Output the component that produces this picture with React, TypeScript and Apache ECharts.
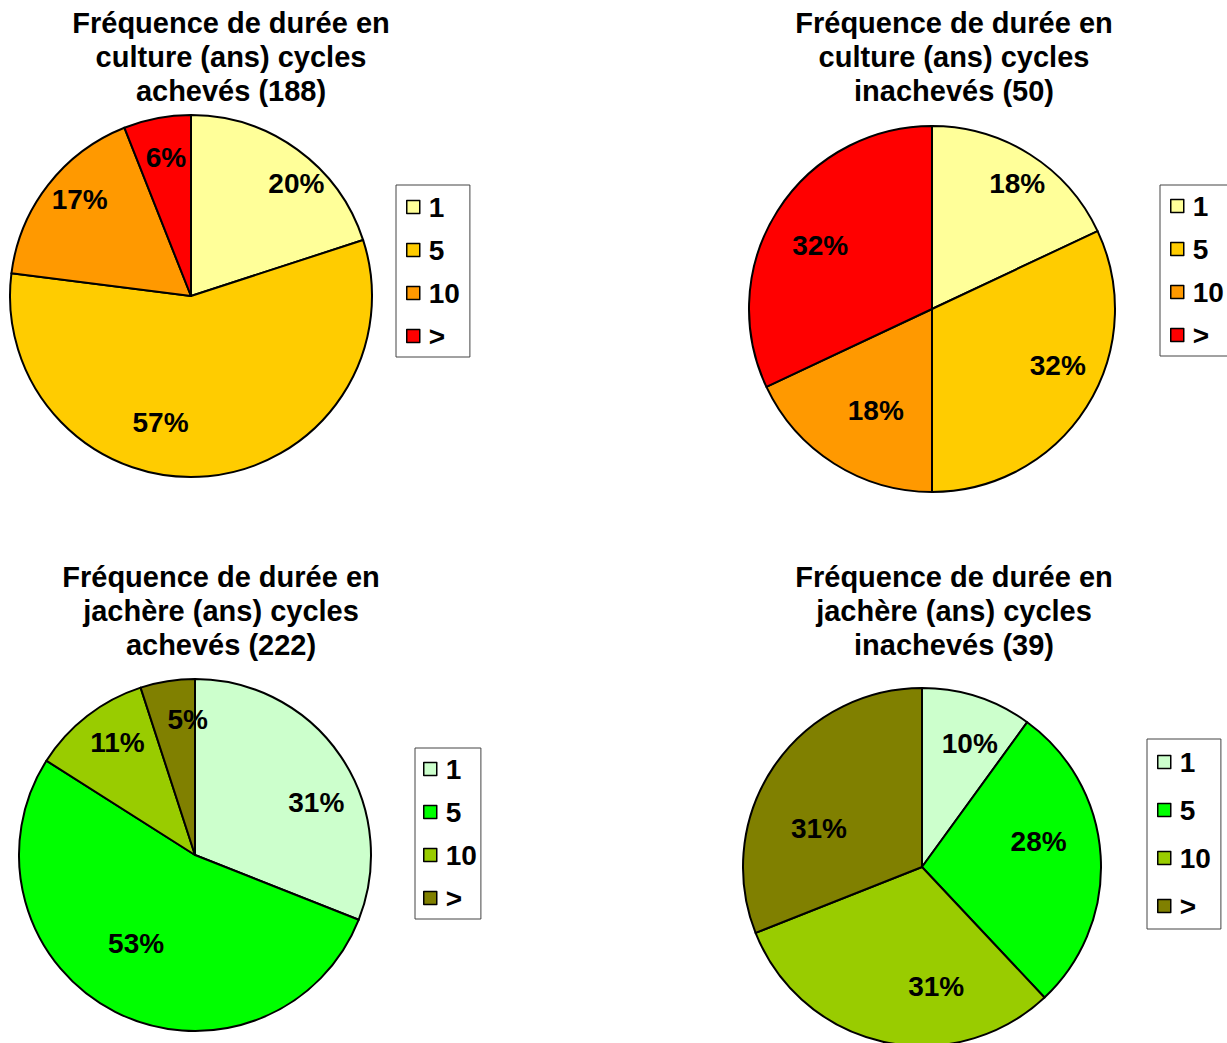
import { useEffect, useRef } from 'react';
import * as echarts from 'echarts';

// Duration classes (years) shown in every legend
const durationClasses = ['1', '5', '10', '>'];

// Shares (%) per duration class
const cultureCompleted = [20, 57, 17, 6];
const cultureOngoing = [18, 32, 18, 32];
const fallowCompleted = [31, 53, 11, 5];
const fallowOngoing = [10, 28, 31, 31];

const cultureCompletedTitle = 'Fréquence de durée en\nculture (ans) cycles\nachevés (188)';
const cultureOngoingTitle = 'Fréquence de durée en\nculture (ans) cycles\ninachevés (50)';
const fallowCompletedTitle = 'Fréquence de durée en\njachère (ans) cycles\nachevés (222)';
const fallowOngoingTitle = 'Fréquence de durée en\njachère (ans) cycles\ninachevés (39)';

const cultureColors = ['#FFFF99', '#FFCC00', '#FF9900', '#FF0000'];
const fallowColors = ['#CCFFCC', '#00FF00', '#99CC00', '#808000'];

const FONT = '"Liberation Sans", Arial, Helvetica, sans-serif';

interface Panel {
  key: string;
  title: string;
  values: number[];
  colors: string[];
  cx: number;
  cy: number;
  r: number;
  titleX: number;
  titleY: number;
  legendX: number;
  legendY: number;
  legendGap: number;
  legendPad: number[];
  // small shifts of each percentage label away from the slice's mid-angle spot
  labelNudge: number[][];
}

const panels: Panel[] = [
  {
    key: 'cc', title: cultureCompletedTitle, values: cultureCompleted, colors: cultureColors,
    cx: 191, cy: 296, r: 181, titleX: 231, titleY: 6,
    legendX: 396, legendY: 185, legendGap: 15, legendPad: [8, 10, 7, 10],
    labelNudge: [[27, -5], [-43, -6], [-6, -15], [0, -8]],
  },
  {
    key: 'co', title: cultureOngoingTitle, values: cultureOngoing, colors: cultureColors,
    cx: 932, cy: 309, r: 183, titleX: 954, titleY: 6,
    legendX: 1160, legendY: 185, legendGap: 15, legendPad: [7, 10, 7, 10],
    labelNudge: [[13, -12], [12, -16], [16, -12], [2, 9]],
  },
  {
    key: 'fc', title: fallowCompletedTitle, values: fallowCompleted, colors: fallowColors,
    cx: 195, cy: 855, r: 176, titleX: 221, titleY: 560,
    legendX: 415, legendY: 748, legendGap: 15, legendPad: [7, 4, 7, 8],
    labelNudge: [[14, 20], [0, -27], [2, -10], [13, -7]],
  },
  {
    key: 'fo', title: fallowOngoingTitle, values: fallowOngoing, colors: fallowColors,
    cx: 922, cy: 867, r: 179, titleX: 954, titleY: 560,
    legendX: 1147, legendY: 739, legendGap: 20, legendPad: [9, 10, 9, 10],
    labelNudge: [[7, 2], [-15, -17], [43, -9], [6, 36]],
  },
];

const itemName = (key: string, cls: string) => `${key}:${cls}`;

export default function App() {
  const ref = useRef<HTMLDivElement>(null);

  useEffect(() => {
    if (!ref.current) return;
    const chart = echarts.init(ref.current, null, { renderer: 'svg' });

    const series: any[] = [];
    const legends: any[] = [];
    const graphics: any[] = [];

    panels.forEach((p) => {
      const data = durationClasses.map((cls, i) => ({
        name: itemName(p.key, cls),
        value: p.values[i],
        itemStyle: { color: p.colors[i] },
      }));

      // filled slices
      series.push({
        type: 'pie',
        center: [p.cx, p.cy],
        radius: [0, p.r],
        startAngle: 90,
        clockwise: true,
        silent: true,
        itemStyle: { borderColor: '#000', borderWidth: 2 },
        label: { show: false },
        labelLine: { show: false },
        emphasis: { disabled: true },
        data,
      });

      // transparent ring carrying the percentage labels further out
      series.push({
        type: 'pie',
        center: [p.cx, p.cy],
        radius: [p.r * 0.44, p.r],
        startAngle: 90,
        clockwise: true,
        silent: true,
        z: 5,
        legendHoverLink: false,
        itemStyle: { color: 'transparent', borderWidth: 0 },
        label: {
          show: true,
          position: 'inside',
          formatter: (prm: any) => `${prm.value}%`,
          color: '#000',
          fontSize: 28,
          fontWeight: 'bold',
          fontFamily: FONT,
        },
        labelLine: { show: false },
        emphasis: { disabled: true },
        data: durationClasses.map((cls, i) => ({
          name: itemName(p.key, cls),
          value: p.values[i],
          itemStyle: { color: 'transparent' },
          label: { offset: p.labelNudge[i] },
        })),
      });

      legends.push({
        orient: 'vertical',
        left: p.legendX,
        top: p.legendY,
        data: durationClasses.map((cls) => itemName(p.key, cls)),
        formatter: (name: string) => name.split(':')[1],
        icon: 'rect',
        itemWidth: 13,
        itemHeight: 13,
        itemGap: p.legendGap,
        selectedMode: false,
        padding: p.legendPad,
        backgroundColor: '#fff',
        borderColor: '#444',
        borderWidth: 1,
        borderRadius: 0,
        itemStyle: { borderColor: '#000', borderWidth: 1.5 },
        textStyle: {
          color: '#000',
          fontSize: 28,
          fontWeight: 'bold',
          fontFamily: FONT,
          lineHeight: 28,
          padding: [0, 0, 0, 4],
        },
      });

      graphics.push({
        type: 'text',
        x: p.titleX,
        y: p.titleY,
        silent: true,
        style: {
          text: p.title,
          textAlign: 'center',
          textVerticalAlign: 'top',
          fill: '#000',
          fontSize: 29,
          fontWeight: 'bold',
          fontFamily: FONT,
          lineHeight: 34,
        },
      });
    });

    chart.setOption({
      animation: false,
      backgroundColor: '#fff',
      legend: legends,
      series,
      graphic: graphics,
    });

    return () => chart.dispose();
  }, []);

  return (
    <div
      ref={ref}
      style={{ position: 'absolute', left: 0, top: 0, width: 1227, height: 1043 }}
    />
  );
}
